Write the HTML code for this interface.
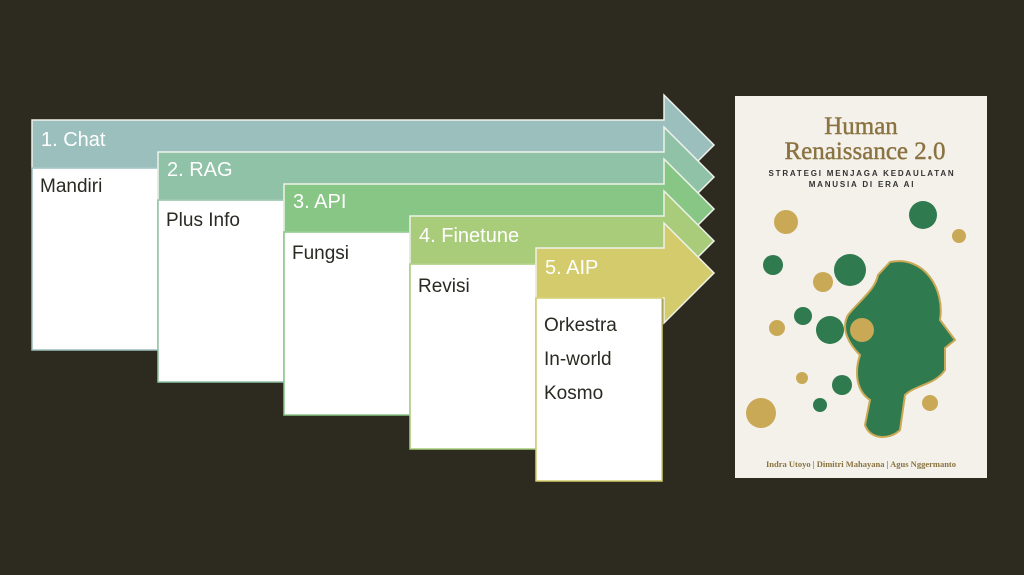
<!DOCTYPE html>
<html><head><meta charset="utf-8"><style>
html,body{margin:0;padding:0;background:#2d2a20;}
body{width:1024px;height:575px;overflow:hidden;position:relative;font-family:"Liberation Sans",sans-serif;}
svg{position:absolute;left:0;top:0}
.t{position:absolute;font-size:19px;color:#2a2a22}
.h{position:absolute;font-size:20px;color:#fff}
</style></head><body>
<svg width="1024" height="575">
 <g stroke="#eef2ea" stroke-width="1.5">
  <polygon fill="#9bbfbd" points="32,120 664,120 664,95 714,145 664,195 664,168 32,168"/>
  <rect x="32" y="168" width="126" height="182" fill="#fff" stroke="#9bbfbd"/>
  <polygon fill="#8fc2a6" points="158,152 664,152 664,127 714,177 664,227 664,200 158,200"/>
  <rect x="158" y="200" width="126" height="182" fill="#fff" stroke="#8fc2a6"/>
  <polygon fill="#88c685" points="284,184 664,184 664,159 714,209 664,259 664,232 284,232"/>
  <rect x="284" y="232" width="126" height="183" fill="#fff" stroke="#88c685"/>
  <polygon fill="#a9cc7a" points="410,216 664,216 664,191 714,241 664,291 664,264 410,264"/>
  <rect x="410" y="264" width="126" height="185" fill="#fff" stroke="#a9cc7a"/>
  <polygon fill="#d4cc6c" points="536,248 664,248 664,223 714,273 664,323 664,298 536,298"/>
  <rect x="536" y="298" width="126" height="183" fill="#fff" stroke="#d4cc6c"/>
 </g>
 <rect x="735" y="96" width="252" height="382" fill="#f3f1ea"/>
 <path d="M890,262 C925,255 945,290 940,320 L955,340 L945,348 L945,370 C935,385 915,385 905,395 L900,430 C890,440 870,440 865,425 L870,400 C855,390 855,370 860,355 C850,345 840,330 848,315 C860,300 875,290 878,275 Z" fill="#2f7a4e" stroke="#c9a955" stroke-width="2"/>
 <g fill="#2f7a4e"><circle cx="850" cy="270" r="16"/><circle cx="830" cy="330" r="14"/><circle cx="803" cy="316" r="9"/><circle cx="923" cy="215" r="14"/><circle cx="773" cy="265" r="10"/><circle cx="842" cy="385" r="10"/><circle cx="820" cy="405" r="7"/></g>
 <g fill="#c9a955"><circle cx="786" cy="222" r="12"/><circle cx="777" cy="328" r="8"/><circle cx="823" cy="282" r="10"/><circle cx="761" cy="413" r="15"/><circle cx="959" cy="236" r="7"/><circle cx="862" cy="330" r="12"/><circle cx="930" cy="403" r="8"/><circle cx="802" cy="378" r="6"/></g>
 <text x="861" y="134" text-anchor="middle" font-family="Liberation Serif,serif" font-size="25" fill="#8a7340" stroke="#8a7340" stroke-width="0.4">Human</text>
 <text x="865" y="159" text-anchor="middle" font-family="Liberation Serif,serif" font-size="25" fill="#8a7340" stroke="#8a7340" stroke-width="0.4">Renaissance 2.0</text>
 <text x="862" y="176" text-anchor="middle" font-size="8" font-weight="bold" letter-spacing="1.8" fill="#333">STRATEGI MENJAGA KEDAULATAN</text>
 <text x="862" y="187" text-anchor="middle" font-size="8" font-weight="bold" letter-spacing="1.8" fill="#333">MANUSIA DI ERA AI</text>
 <text x="861" y="467" text-anchor="middle" font-family="Liberation Serif,serif" font-size="8.5" font-weight="bold" fill="#8a7340">Indra Utoyo | Dimitri Mahayana | Agus Nggermanto</text>
</svg>
<div class="h" style="left:41px;top:129px">1. Chat</div>
<div class="h" style="left:167px;top:159px">2. RAG</div>
<div class="h" style="left:293px;top:191px">3. API</div>
<div class="h" style="left:419px;top:225px">4. Finetune</div>
<div class="h" style="left:545px;top:257px">5. AIP</div>
<div class="t" style="left:40px;top:176px">Mandiri</div>
<div class="t" style="left:166px;top:210px">Plus Info</div>
<div class="t" style="left:292px;top:243px">Fungsi</div>
<div class="t" style="left:418px;top:276px">Revisi</div>
<div class="t" style="left:544px;top:309px;line-height:34px">Orkestra<br>In-world<br>Kosmo</div>
</body></html>
